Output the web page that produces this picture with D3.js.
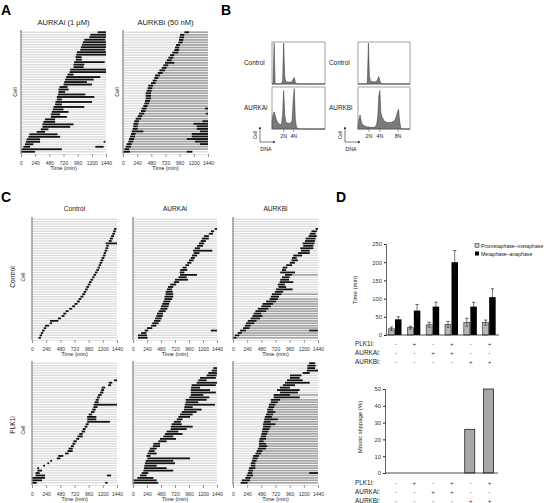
<!DOCTYPE html>
<html><head><meta charset="utf-8">
<script src="https://cdn.jsdelivr.net/npm/d3@7"></script>
<style>body{margin:0;background:#fff}svg{display:block}text{font-family:"Liberation Sans",Arial,Helvetica,sans-serif}</style>
</head><body><svg id="c" width="550" height="503"></svg>
<script>
// ---------------- DATA ----------------
const timeTicks = [0, 240, 480, 720, 960, 1200, 1440];
// swimlane rows, top to bottom: [mitosisStart, mitosisEnd, grayEnd, mitosis2Start, mitosis2End]
const swimA_AURKAi = [[1298,1440],[1174,1440],[1157,1440],[1072,1429],[1049,1440],[1032,1440],[1015,1440],[1004,1429],[947,1440],[936,1440],[924,1026],[930,1030],[901,1418],[890,1072],[890,1060],[833,1440],[822,1440],[788,890],[765,1344],[748,1230],[731,1117],[720,1202],[652,788],[635,805],[635,748],[624,1089],[607,1242],[607,692],[584,1202],[578,692],[550,1072],[539,720],[522,805],[505,663],[505,777],[408,578],[380,578],[363,890],[363,833],[335,465],[266,408],[142,618],[125,663],[96,323],[85,323,323,1400,1430],[68,210],[40,153,153,1260,1400],[11,692],[0,238]];
const swimA_AURKBi = [[1040,1119,1440],[966,1040,1440],[955,1034,1440],[949,1023,1440],[938,1011,1440],[898,966,1440],[881,955,1440],[870,949,1440],[836,938,1440],[797,870,1440],[768,853,1440],[740,825,1440],[712,870,1440],[684,768,1440],[655,740,1440],[616,712,1440],[588,672,1440],[542,627,1440],[531,599,1440],[503,571,1440],[475,554,1440],[429,514,1440],[418,497,1440],[401,486,1440],[384,475,1440],[384,475,1440],[384,475,1440],[373,458,1440],[362,441,1440],[345,418,1440],[316,401,1390,1390,1440],[305,384,1440],[271,362,1401,1401,1440],[249,328,1440],[215,305,1440],[192,271,1345,1345,1440],[175,260,1192,1192,1440],[175,249,1249,1249,1440],[164,249,1249,1249,1440],[147,345,1305,1305,1440],[136,215,1164,1164,1440],[119,203,1164,1164,1440],[102,192,1080,1080,1440],[90,175,1220,1220,1440],[62,147,1305,1305,1440],[45,136,1440],[23,102,1440],[6,119,1080,1080,1175]];
const swimC_Ctrl_Ctrl = [[],[],[],[],[1390,1430],[1375,1420],[1360,1405],[1340,1390],[1320,1370],[1300,1350],[1250,1440],[1260,1300],[1245,1290],[1230,1275],[1215,1255],[1200,1245],[1180,1225],[1160,1210],[1145,1190],[1130,1170],[1110,1150],[1090,1135],[1065,1110],[1040,1085],[1020,1060],[990,1035],[965,1010],[945,990],[920,965],[900,945],[875,920],[850,900],[820,870],[790,835],[760,810],[720,770],[680,730],[630,680],[570,620],[530,580],[500,550],[440,490],[305,446],[300,340],[220,290],[200,240],[170,215],[150,190],[130,170],[110,150]];
const swimC_Ctrl_AURKAi = [[],[],[],[],[1400,1440],[1335,1390],[1300,1370],[1215,1300],[1180,1300],[1160,1250],[1130,1220],[1100,1200],[1060,1150],[1030,1360],[1040,1140],[1010,1100],[990,1060],[960,1040],[930,1000],[900,960],[850,920],[810,930],[800,880],[806,1097],[780,920],[720,943],[700,790],[640,740],[600,690],[583,669],[560,680],[560,690],[540,690],[540,670],[520,640],[500,620],[480,610],[470,590],[440,560],[411,514],[400,510],[380,490],[360,470],[330,440],[310,400],[240,330],[200,260,260,1335,1440],[140,230],[85,240],[85,250]];
const swimC_Ctrl_AURKBi = [[],[],[],[],[1400,1440],[1330,1420],[1300,1400],[1280,1420],[1230,1400],[1220,1390],[1180,1380],[1190,1360],[1140,1360],[1150,1300],[1100,1300],[1020,1170],[1000,1080],[990,1100],[960,1050],[900,1000],[840,920],[830,900],[800,1050],[880,1000,1440],[830,960],[800,950],[790,1020],[760,880],[770,900],[730,1010],[710,850],[660,820,1440],[640,780],[620,760,1440],[560,730,1440],[500,680,1440],[480,640,1440],[420,600,1440],[380,560,1440],[350,480,1440],[330,500,1440],[300,460,1440],[250,400,1440],[220,360,1440],[200,300,1440],[170,280,1440],[120,220,1290,1290,1440],[80,150,1440],[30,110,1440],[0,60,1440]];
const swimC_PLK_Ctrl = [[],[],[],[],[],[],[],[1390,1440],[1300,1360],[1290,1340],[1180,1240],[1170,1220],[1150,1210],[1120,1180],[1100,1150],[1080,1130],[1060,1130],[1045,1440],[1040,1110],[1020,1080],[1000,1060],[960,1020],[935,1090],[935,1090],[935,1320],[910,960],[890,940],[860,910],[840,900],[800,860],[770,860],[750,800],[700,760],[685,735],[660,710],[620,690],[600,690],[560,620],[445,530],[420,480],[310,340],[260,290],[190,220],[90,120],[90,170],[60,130],[60,220,220,1270,1340],[0,220],[0,170],[0,80,80,1240,1280]];
const swimC_PLK_AURKAi = [[],[],[1377,1440],[1350,1440],[1290,1440],[1262,1434],[1150,1420],[1120,1262],[1090,1440],[1005,1420],[995,1150],[990,1320],[990,1420],[990,1205],[965,1310],[903,1262],[903,1120],[890,1405],[880,1023],[875,1177],[835,1090],[805,1023],[777,977],[750,850],[700,820],[663,834],[650,1023],[645,920],[577,777],[548,850],[520,690],[463,737],[434,577],[350,463],[340,463],[290,406],[270,370],[250,406],[230,300],[246,977],[217,690],[205,720],[195,406],[188,577],[177,690],[150,263],[120,234],[75,350],[6,406],[6,434]];
const swimC_PLK_AURKBi = [[1290,1390],[1260,1400],[1260,1390],[1250,1440],[1180,1300],[965,1160],[965,1130],[915,1180],[880,1300],[845,1050],[795,965],[745,1130],[795,1100],[690,965,1440],[690,1130],[640,800,1440],[640,760,1440],[610,720,1440],[600,700,1440],[580,680,1440],[580,720,1440],[560,680,1440],[540,660,1440],[530,760,1440],[520,640,1440],[510,720,1440],[510,640,1440],[500,620,1440],[490,600,1440],[480,580,1440],[470,560,1440],[450,560,1440],[440,520,1440],[440,560,1440],[440,580,1440],[420,560,1440],[400,500,1440],[380,480,1440],[340,440,1440],[330,420,1440],[320,400,1440],[300,380,1440],[300,380,1440],[270,380,1440],[260,340,1440],[250,330,1290,1290,1440],[230,340,1440],[210,300,1440],[150,290,1440],[130,250,1440]];

// flow cytometry histograms (DNA content bins 0..100, relative counts)
const dnaBins = d3.range(0, 101, 2);
const histCtrlL = [0,0,100,0,0,0,0,0,0,1,8,100,18,6,5,5,4,5,5,6,12,16,5,1,0,0, 0,0,0,0,0,0,0,0,0,0,0,0,0,0,0,0,0,0,0,0,0,0,0,0,0];
const histAurkaL = [20,35,42,33,24,18,14,12,11,12,35,94,35,18,15,14,14,14,15,22,70,98,25,6,2,1, 0,0,0,0,0,0,0,0,0,0,0,0,0,0,0,0,0,0,0,0,0,0,0,0,0];
const histCtrlR = [0,0,0,0,0,0,0,0,0,4,100,18,8,6,6,5,5,6,7,12,18,8,2,0, 0,0,0,0,0,0,0,0,0,0,0,0,0,0,0,0,0,0,0,0,0,0,0,0,0,0,0];
const histAurkbR = [10,25,34,20,12,10,8,7,6,5,5,5,4,4,4,4,5,7,12,30,80,94,40,30,25,20,18,17,16,16,16,16,16,17,18,20,25,32,42,48,20,4,0,0,0,0,0,0,0,0,0];
const ploidyL = [22, 41], ploidyLLabels = ["2N", "4N"];
const ploidyR = [21, 42, 77], ploidyRLabels = ["2N", "4N", "8N"];

// panel D
const conditions = [0, 1, 2, 3, 4, 5];
const promMeta = [17, 20, 28, 29, 35, 34];
const promMetaErr = [5, 4, 7, 8, 11, 7];
const metaAna = [43, 67, 78, 200, 78, 104];
const metaAnaErr = [7, 17, 12, 32, 12, 23];
const slippage = [0, 0, 0, 0, 26, 50];
const signPLK1i = ["-", "+", "-", "+", "-", "+"];
const signAURKAi = ["-", "-", "+", "+", "-", "-"];
const signAURKBi = ["-", "-", "-", "-", "+", "+"];
const timeTicksD = [0, 50, 100, 150, 200, 250];
const slipTicks = [0, 10, 20, 30, 40, 50];

// ---------------- DRAW ----------------
const svg = d3.select('#c');
const TXT = '#222';
const FF = '"Liberation Sans",Arial,sans-serif';
function txt(x, y, s, size, o = {}) {
  const t = svg.append('text').attr('x', x).attr('y', y).text(s).attr('font-size', size)
    .attr('fill', o.fill || TXT).attr('text-anchor', o.anchor || 'start');
  if (o.rotate) t.attr('transform', `rotate(-90,${x},${y})`);
  if (o.weight) t.attr('font-weight', o.weight);
  return t;
}

function swim(rows, b) {
  const x = d3.scaleLinear().domain([0, 1440]).range([b.x0, b.x1]);
  const y = d3.scaleBand().domain(d3.range(rows.length)).range([b.y0, b.y1]);
  const bw = y.bandwidth();
  const g = svg.append('g');
  g.selectAll('rect.bg').data(rows).join('rect').attr('class', 'bg')
    .attr('x', b.x0).attr('width', b.x1 - b.x0)
    .attr('y', (d, i) => y(i) + bw * 0.22).attr('height', bw * 0.56).attr('fill', '#dcdcdc');
  const grays = rows.map((r, i) => ({ r, i })).filter(d => d.r.length >= 3 && d.r[2] > d.r[1]);
  g.selectAll('rect.gr').data(grays).join('rect').attr('class', 'gr')
    .attr('x', d => x(d.r[1])).attr('width', d => x(d.r[2]) - x(d.r[1]))
    .attr('y', d => y(d.i) + bw * 0.18).attr('height', bw * 0.64).attr('fill', '#a3a3a3');
  const blacks = [];
  rows.forEach((r, i) => {
    if (r.length >= 2) blacks.push({ s: r[0], e: r[1], i });
    if (r.length >= 5) blacks.push({ s: r[3], e: r[4], i });
  });
  g.selectAll('rect.bk').data(blacks).join('rect').attr('class', 'bk')
    .attr('x', d => x(d.s)).attr('width', d => Math.max(1, x(d.e) - x(d.s)))
    .attr('y', d => y(d.i) + bw * 0.13).attr('height', bw * 0.74).attr('fill', '#111');
  g.append('line').attr('x1', b.x0).attr('x2', b.x0).attr('y1', b.y0 - 1).attr('y2', b.y1 + 1)
    .attr('stroke', '#8a8a8a').attr('stroke-width', 1.3);
  const ax = g.append('g').attr('transform', `translate(0,${b.y1 + 1})`)
    .call(d3.axisBottom(x).tickValues(timeTicks).tickFormat(d3.format('d')).tickSize(3).tickPadding(4));
  ax.select('.domain').attr('stroke', '#ccc').attr('stroke-width', 0.5);
  ax.selectAll('line').attr('stroke', '#555').attr('stroke-width', 0.6);
  ax.selectAll('text').attr('font-size', 5).attr('fill', '#333').attr('font-family', FF);
  txt((b.x0 + b.x1) / 2, b.y1 + 17, 'Time (min)', 5.6, { anchor: 'middle' });
}

// Panel letters
txt(1, 15, 'A', 14, { weight: 'bold', fill: '#000' });
txt(221, 15, 'B', 14, { weight: 'bold', fill: '#000' });
txt(1, 202, 'C', 14, { weight: 'bold', fill: '#000' });
txt(336, 202, 'D', 14, { weight: 'bold', fill: '#000' });

// Panel A
swim(swimA_AURKAi, { x0: 21, x1: 106, y0: 31, y1: 153 });
swim(swimA_AURKBi, { x0: 123, x1: 208, y0: 31, y1: 153 });
txt(63.5, 25, 'AURKAi (1 µM)', 7.6, { anchor: 'middle' });
txt(165.5, 25, 'AURKBi (50 nM)', 7.6, { anchor: 'middle' });
txt(17, 92, 'Cell', 5.5, { anchor: 'middle', rotate: true });
txt(119, 92, 'Cell', 5.5, { anchor: 'middle', rotate: true });

// Panel C
const cx = [[32, 117], [133, 217], [233, 318]];
const cTitles = ['Control', 'AURKAi', 'AURKBi'];
const cTop = [swimC_Ctrl_Ctrl, swimC_Ctrl_AURKAi, swimC_Ctrl_AURKBi];
const cBot = [swimC_PLK_Ctrl, swimC_PLK_AURKAi, swimC_PLK_AURKBi];
cx.forEach((r, k) => {
  swim(cTop[k], { x0: r[0], x1: r[1], y0: 218, y1: 339 });
  swim(cBot[k], { x0: r[0], x1: r[1], y0: 362, y1: 484 });
  txt((r[0] + r[1]) / 2, 211, cTitles[k], 6.6, { anchor: 'middle' });
});
txt(15, 277, 'Control', 6.6, { anchor: 'middle', rotate: true });
txt(25, 277, 'Cell', 5.2, { anchor: 'middle', rotate: true });
txt(15, 425, 'PLK1i', 6.6, { anchor: 'middle', rotate: true });
txt(25, 430, 'Cell', 5.2, { anchor: 'middle', rotate: true });

// Panel B
function hist(vals, b) {
  const x = d3.scaleLinear().domain([0, 100]).range([b.x0, b.x1]);
  const y = d3.scaleLinear().domain([0, 100]).range([b.y1, b.y0 + 1]);
  svg.append('rect').attr('x', b.x0).attr('y', b.y0).attr('width', b.x1 - b.x0).attr('height', b.y1 - b.y0)
    .attr('fill', '#fff').attr('stroke', '#8c8c8c').attr('stroke-width', 0.8);
  const area = d3.area().x((d, i) => x(dnaBins[i])).y0(b.y1).y1(d => y(d));
  svg.append('path').datum(vals).attr('d', area).attr('fill', '#7a7a7a')
    .attr('stroke', '#333').attr('stroke-width', 0.5);
}
hist(histCtrlL, { x0: 272, x1: 325, y0: 42, y1: 84 });
hist(histAurkaL, { x0: 272, x1: 325, y0: 87, y1: 129 });
hist(histCtrlR, { x0: 358, x1: 410, y0: 42, y1: 84 });
hist(histAurkbR, { x0: 358, x1: 410, y0: 87, y1: 129 });
txt(244, 65, 'Control', 6.4);
txt(244, 110, 'AURKAi', 6.4);
txt(329, 65, 'Control', 6.4);
txt(329, 110, 'AURKBi', 6.4);
function ploidyAxis(ticks, labels, x0, x1) {
  const x = d3.scaleLinear().domain([0, 100]).range([x0, x1]);
  ticks.forEach((t, i) => {
    svg.append('line').attr('x1', x(t)).attr('x2', x(t)).attr('y1', 129).attr('y2', 132).attr('stroke', '#444').attr('stroke-width', 0.5);
    txt(x(t), 138, labels[i], 5.2, { anchor: 'middle' });
  });
}
ploidyAxis(ploidyL, ploidyLLabels, 272, 325);
ploidyAxis(ploidyR, ploidyRLabels, 358, 410);
svg.append('defs').append('marker').attr('id', 'arr').attr('viewBox', '0 0 6 6').attr('refX', 5).attr('refY', 3)
  .attr('markerWidth', 4).attr('markerHeight', 4).attr('orient', 'auto')
  .append('path').attr('d', 'M0,0L6,3L0,6Z').attr('fill', '#222');
[[260, 266], [345, 351]].forEach(([ax, dx]) => {
  svg.append('line').attr('x1', ax).attr('y1', 142).attr('x2', ax).attr('y2', 127).attr('stroke', '#222').attr('stroke-width', 0.6).attr('marker-end', 'url(#arr)');
  svg.append('line').attr('x1', ax).attr('y1', 142).attr('x2', ax + 15).attr('y2', 142).attr('stroke', '#222').attr('stroke-width', 0.6).attr('marker-end', 'url(#arr)');
  txt(ax - 3, 135, 'Cell', 5, { anchor: 'middle', rotate: true });
  txt(dx, 151, 'DNA', 5.4, { anchor: 'middle' });
});

// Panel D - top
const xD = d3.scaleBand().domain(conditions).range([386, 499]);
const yD = d3.scaleLinear().domain([0, 250]).range([335, 244]);
const gD = svg.append('g');
gD.selectAll('rect.pm').data(conditions).join('rect')
  .attr('x', i => xD(i) + 2.5).attr('width', 6).attr('y', i => yD(promMeta[i])).attr('height', i => yD(0) - yD(promMeta[i]))
  .attr('fill', '#b5b5b5').attr('stroke', '#222').attr('stroke-width', 0.6);
gD.selectAll('rect.ma').data(conditions).join('rect')
  .attr('x', i => xD(i) + 9).attr('width', 6.5).attr('y', i => yD(metaAna[i])).attr('height', i => yD(0) - yD(metaAna[i]))
  .attr('fill', '#000');
function errBar(cxp, v, e) {
  gD.append('line').attr('x1', cxp).attr('x2', cxp).attr('y1', yD(v - e)).attr('y2', yD(v + e)).attr('stroke', '#222').attr('stroke-width', 0.6);
  gD.append('line').attr('x1', cxp - 1.6).attr('x2', cxp + 1.6).attr('y1', yD(v + e)).attr('y2', yD(v + e)).attr('stroke', '#222').attr('stroke-width', 0.7);
  gD.append('line').attr('x1', cxp - 1.6).attr('x2', cxp + 1.6).attr('y1', yD(v - e)).attr('y2', yD(v - e)).attr('stroke', '#222').attr('stroke-width', 0.5);
}
conditions.forEach(i => {
  errBar(xD(i) + 5.5, promMeta[i], promMetaErr[i]);
  errBar(xD(i) + 12.25, metaAna[i], metaAnaErr[i]);
});
const ayD = gD.append('g').attr('transform', 'translate(386,0)').call(d3.axisLeft(yD).tickValues(timeTicksD).tickSize(2).tickPadding(2));
ayD.select('.domain').attr('stroke', '#222').attr('stroke-width', 0.7);
ayD.selectAll('line').attr('stroke', '#222');
ayD.selectAll('text').attr('font-size', 5.8).attr('fill', '#333').attr('font-family', FF);
gD.append('line').attr('x1', 386).attr('x2', 499).attr('y1', 335).attr('y2', 335).attr('stroke', '#222').attr('stroke-width', 0.8);
txt(357, 290, 'Time (min)', 6, { anchor: 'middle', rotate: true });
svg.append('rect').attr('x', 475).attr('y', 243.5).attr('width', 4).attr('height', 4).attr('fill', '#c8c8c8').attr('stroke', '#222').attr('stroke-width', 0.5);
txt(481, 247.5, 'Prometaphase–metaphase', 5.2);
svg.append('rect').attr('x', 475).attr('y', 251.5).attr('width', 4).attr('height', 4).attr('fill', '#000');
txt(481, 255.5, 'Metaphase–anaphase', 5.2);

function signTable(y0) {
  const rows = [['PLK1i:', signPLK1i], ['AURKAi:', signAURKAi], ['AURKBi:', signAURKBi]];
  rows.forEach(([lab, s], r) => {
    txt(355, y0 + r * 9, lab, 6.4);
    s.forEach((v, i) => txt(xD(i) + xD.bandwidth() / 2, y0 + r * 9, v, 6.2, { anchor: 'middle', fill: '#333' }));
  });
}
signTable(345.5);

// Panel D - bottom
const xS = d3.scaleBand().domain(conditions).range([385, 498]);
const yS = d3.scaleLinear().domain([0, 50]).range([473, 389]);
svg.append('g').selectAll('rect').data(conditions.filter(i => slippage[i] > 0)).join('rect')
  .attr('x', i => xS(i) + xS.bandwidth() / 2 - 5).attr('width', 10)
  .attr('y', i => yS(slippage[i])).attr('height', i => yS(0) - yS(slippage[i]))
  .attr('fill', '#a8a8a8').attr('stroke', '#222').attr('stroke-width', 0.8);
const ayS = svg.append('g').attr('transform', 'translate(385,0)').call(d3.axisLeft(yS).tickValues(slipTicks).tickSize(2).tickPadding(2));
ayS.select('.domain').attr('stroke', '#222').attr('stroke-width', 0.7);
ayS.selectAll('line').attr('stroke', '#222');
ayS.selectAll('text').attr('font-size', 5.8).attr('fill', '#333').attr('font-family', FF);
svg.append('line').attr('x1', 385).attr('x2', 498).attr('y1', 473).attr('y2', 473).attr('stroke', '#222').attr('stroke-width', 0.8);
txt(362, 427, 'Mitotic slippage (%)', 6, { anchor: 'middle', rotate: true });
signTable(485);
</script></body></html>
